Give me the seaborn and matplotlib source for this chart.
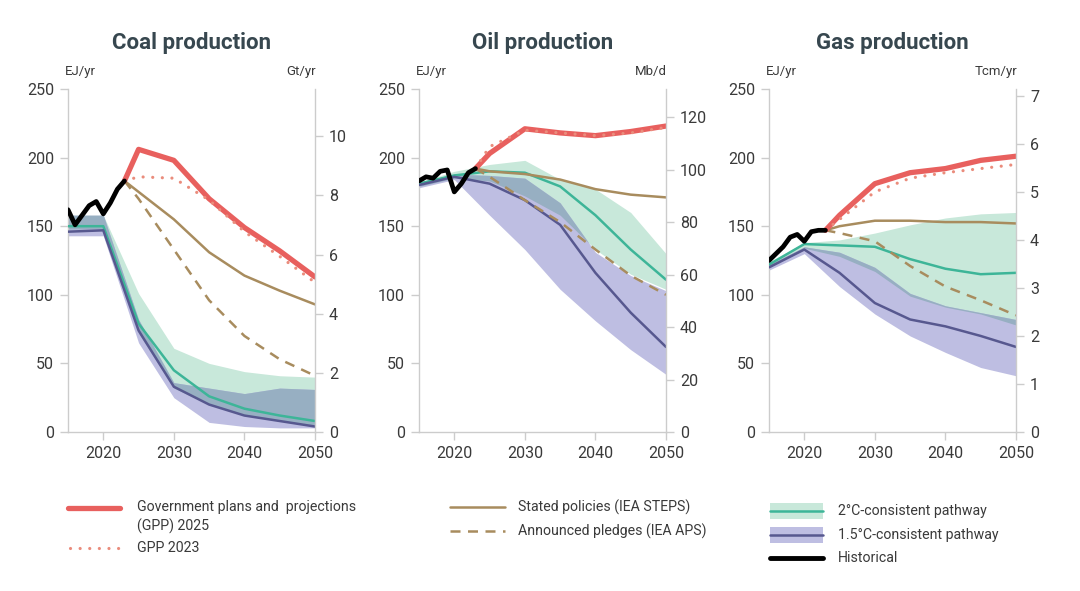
import numpy as np
import pandas as pd
import matplotlib
matplotlib.use('Agg')
import matplotlib.pyplot as plt
import seaborn as sns
from matplotlib.lines import Line2D
from matplotlib.patches import Rectangle

sns.set_theme(style='white')
plt.rcParams['font.family'] = ['Roboto', 'DejaVu Sans']

# ---- data (EJ/yr) ----
hist_years = [2015, 2016, 2017, 2018, 2019, 2020, 2021, 2022, 2023]
proj_years = [2023, 2025, 2030, 2035, 2040, 2045, 2050]
path_years = [2015, 2020, 2025, 2030, 2035, 2040, 2045, 2050]

coal_hist = [162, 151, 158, 165, 168, 159, 167, 177, 183]
coal_gpp25 = [183, 206, 198, 170, 149, 132, 113]
coal_gpp23 = [183, 186, 185, 169, 146, 128, 109]
coal_steps = [183, 175, 155, 131, 114, 103, 93]
coal_aps = [183, 170, 133, 96, 70, 53, 41]
coal_2c = [150, 150, 79, 45, 26, 17, 12, 8]
coal_2c_hi = [158, 158, 101, 61, 50, 44, 41, 40]
coal_2c_lo = [148, 148, 72, 32, 20, 12, 8, 5]
coal_15 = [146, 147, 74, 33, 20, 12, 8, 4]
coal_15_hi = [158, 158, 82, 36, 32, 28, 32, 31]
coal_15_lo = [143, 143, 65, 25, 7, 4, 3, 3]

oil_hist = [183, 186, 185, 190, 191, 175, 181, 189, 192]
oil_gpp25 = [192, 203, 221, 218, 216, 219, 223]
oil_gpp23 = [192, 208, 220, 218, 216, 218, 222]
oil_steps = [192, 190, 188, 184, 177, 173, 171]
oil_aps = [192, 186, 169, 153, 133, 114, 100]
oil_2c = [181, 187, 190, 189, 179, 158, 133, 111]
oil_2c_hi = [182, 190, 195, 198, 184, 177, 160, 130]
oil_2c_lo = [179, 185, 183, 172, 158, 133, 115, 104]
oil_15 = [180, 186, 181, 169, 151, 116, 87, 62]
oil_15_hi = [182, 188, 187, 185, 167, 131, 114, 103]
oil_15_lo = [178, 184, 158, 133, 104, 81, 60, 42]

gas_hist = [125, 130, 135, 142, 144, 139, 146, 147, 147]
gas_gpp25 = [147, 158, 181, 189, 192, 198, 201]
gas_gpp23 = [147, 155, 175, 185, 189, 192, 195]
gas_steps = [147, 150, 154, 154, 153, 153, 152]
gas_aps = [147, 145, 139, 121, 106, 96, 85]
gas_2c = [122, 137, 136, 135, 126, 119, 115, 116]
gas_2c_hi = [124, 138, 140, 145, 151, 156, 159, 160]
gas_2c_lo = [120, 134, 128, 117, 99, 91, 86, 78]
gas_15 = [120, 133, 116, 94, 82, 77, 70, 62]
gas_15_hi = [122, 135, 131, 120, 101, 92, 87, 82]
gas_15_lo = [118, 130, 106, 86, 70, 58, 47, 41]

titles = ['Coal production', 'Oil production', 'Gas production']
right_units = ['Gt/yr', 'Mb/d', 'Tcm/yr']
right_max = [11.6, 130.7, 7.15]
right_ticks = [[0, 2, 4, 6, 8, 10], [0, 20, 40, 60, 80, 100, 120], [0, 1, 2, 3, 4, 5, 6, 7]]

panels = [
    (coal_hist, coal_gpp25, coal_gpp23, coal_steps, coal_aps, coal_2c, coal_2c_hi, coal_2c_lo, coal_15, coal_15_hi, coal_15_lo),
    (oil_hist, oil_gpp25, oil_gpp23, oil_steps, oil_aps, oil_2c, oil_2c_hi, oil_2c_lo, oil_15, oil_15_hi, oil_15_lo),
    (gas_hist, gas_gpp25, gas_gpp23, gas_steps, gas_aps, gas_2c, gas_2c_hi, gas_2c_lo, gas_15, gas_15_hi, gas_15_lo),
]

# colours
RED = '#E8605E'
SALMON = '#EA8C7C'
BROWN = '#A88C5E'
TEAL = '#3DB598'
PURPLE = '#57588F'
MINT = '#C8E8DA'
LAV = '#BEBEE2'
OVERLAP = '#97AFC2'
SPINE = '#CCCCCC'
TXT = '#3A3A3A'
DOTS = (0, (0.01, 3.0))

fig = plt.figure(figsize=(10.8, 5.91), dpi=100)
lefts = [68, 419, 769]
W, H = 1080, 591

for i, (hist, g25, g23, steps, aps, c2, c2hi, c2lo, c15, c15hi, c15lo) in enumerate(panels):
    ax = fig.add_axes([lefts[i] / W, 1 - 432 / H, 247 / W, 343 / H])
    py = np.array(path_years)
    # bands, with their overlap drawn as a darker blend
    ax.fill_between(py, c2lo, c2hi, color=MINT, lw=0, zorder=1)
    ax.fill_between(py, c15lo, c15hi, color=LAV, lw=0, zorder=1.1)
    olo = np.maximum(c2lo, c15lo)
    ohi = np.minimum(c2hi, c15hi)
    ax.fill_between(py, olo, ohi, where=olo < ohi, interpolate=True, color=OVERLAP, lw=0, zorder=1.2)

    df_path = pd.DataFrame({'year': path_years, 'c2': c2, 'c15': c15})
    sns.lineplot(data=df_path, x='year', y='c2', color=TEAL, lw=1.8, ax=ax, zorder=3)
    sns.lineplot(data=df_path, x='year', y='c15', color=PURPLE, lw=1.8, ax=ax, zorder=3)

    df_proj = pd.DataFrame({'year': proj_years, 'g25': g25, 'g23': g23, 'steps': steps, 'aps': aps})
    sns.lineplot(data=df_proj, x='year', y='steps', color=BROWN, lw=1.8, ax=ax, zorder=4)
    sns.lineplot(data=df_proj, x='year', y='aps', color=BROWN, lw=1.8, ax=ax, zorder=4,
                 linestyle=(0, (4, 3)))
    sns.lineplot(data=df_proj, x='year', y='g25', color=RED, lw=3.8, ax=ax, zorder=5)
    sns.lineplot(data=df_proj, x='year', y='g23', color=SALMON, lw=2.3, ax=ax, zorder=6,
                 linestyle=DOTS, dash_capstyle='round')

    df_hist = pd.DataFrame({'year': hist_years, 'v': hist})
    sns.lineplot(data=df_hist, x='year', y='v', color='black', lw=3.4, ax=ax, zorder=7,
                 solid_joinstyle='round')

    ax.set_xlim(2015, 2050)
    ax.set_ylim(0, 250)
    ax.set_xticks([2020, 2030, 2040, 2050])
    ax.set_yticks([0, 50, 100, 150, 200, 250])
    ax.set_xlabel('')
    ax.set_ylabel('')
    for s in ['top', 'right']:
        ax.spines[s].set_visible(False)
    for s in ['left', 'bottom']:
        ax.spines[s].set_color(SPINE)
        ax.spines[s].set_linewidth(1)
    ax.tick_params(axis='both', which='both', direction='out', length=6, width=1, color=SPINE,
                   labelsize=11.5, labelcolor=TXT, pad=4, left=True, bottom=True)

    ax2 = ax.twinx()
    ax2.set_ylim(0, right_max[i])
    ax2.set_yticks(right_ticks[i])
    for s in ['top', 'left', 'bottom']:
        ax2.spines[s].set_visible(False)
    ax2.spines['right'].set_color(SPINE)
    ax2.spines['right'].set_linewidth(1)
    ax2.tick_params(axis='y', direction='out', length=6, width=1, color=SPINE,
                    labelsize=11.5, labelcolor=TXT, pad=4, right=True)
    ax2.grid(False)
    ax.grid(False)

    cx = (lefts[i] + 123.5) / W
    fig.text(cx, 1 - 43 / H, titles[i], ha='center', va='center', fontsize=16,
             fontweight='bold', color='#37474F')
    fig.text((lefts[i] - 3) / W, 1 - 72 / H, 'EJ/yr', ha='left', va='center', fontsize=9.5, color=TXT)
    fig.text((lefts[i] + 248) / W, 1 - 72 / H, right_units[i], ha='right', va='center',
             fontsize=9.5, color=TXT)

# ---- legend, drawn in figure pixels ----
def fx(px):
    return px / W

def fy(py):
    return 1 - py / H

def leg_line(x0, x1, y, **kw):
    fig.add_artist(Line2D([fx(x0), fx(x1)], [fy(y), fy(y)], transform=fig.transFigure, **kw))

def leg_text(x, y, s, **kw):
    fig.text(fx(x), fy(y), s, fontsize=10.2, color=TXT, **kw)

leg_line(68, 120, 508, color=RED, lw=3.8)
leg_text(137, 500, 'Government plans and  projections\n(GPP) 2025', va='top', linespacing=1.35)
leg_line(70, 120, 548, color=SALMON, lw=2.3, linestyle=DOTS, dash_capstyle='round')
leg_text(137, 548, 'GPP 2023', va='center')

leg_line(450, 505, 507, color=BROWN, lw=1.8)
leg_text(518, 507, 'Stated policies (IEA STEPS)', va='center')
leg_line(450, 505, 531, color=BROWN, lw=1.8, linestyle=(0, (4, 3)))
leg_text(518, 531, 'Announced pledges (IEA APS)', va='center')

for yc, fc, lc, lab in [(511, MINT, TEAL, '2°C-consistent pathway'),
                        (535, LAV, PURPLE, '1.5°C-consistent pathway')]:
    fig.add_artist(Rectangle((fx(770), fy(yc + 8)), fx(823) - fx(770), fy(yc - 8) - fy(yc + 8),
                             transform=fig.transFigure, color=fc, lw=0))
    leg_line(770, 823, yc, color=lc, lw=1.8)
    leg_text(838, yc, lab, va='center')
leg_line(770, 823, 558, color='black', lw=3.5)
leg_text(838, 558, 'Historical', va='center')

fig.savefig('out.png', dpi=100, facecolor='white')
